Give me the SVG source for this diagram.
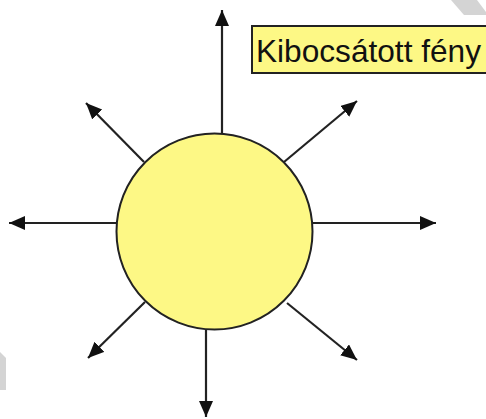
<svg xmlns="http://www.w3.org/2000/svg" width="486" height="419" viewBox="0 0 486 419">
<style>
.ray{stroke:#222;stroke-width:2.2;fill:none;marker-end:url(#ah)}
.sun{fill:#fdf885;stroke:#222;stroke-width:2}
.box{fill:#fdf885;stroke:#222;stroke-width:2}
.lbl{font-family:"Liberation Sans",Arial,sans-serif;font-size:31.5px;fill:#111}
.wm{fill:#d4d4d4}
</style>
<defs>
<marker id="ah" markerUnits="userSpaceOnUse" markerWidth="18" markerHeight="16" refX="16" refY="7" orient="auto">
<path d="M0,0 L16,7 L0,14 z" fill="#111"/>
</marker>
</defs>
<rect width="486" height="419" fill="#fff"/>
<polygon class="wm" points="451,0 477,0 486,12 486,15 464,15"/>
<polygon class="wm" points="0,352 6,358 6,390 0,390"/>
<g id="connectors">
<line class="ray" x1="222" y1="134" x2="222" y2="10"/>
<line class="ray" x1="206" y1="329" x2="206" y2="417"/>
<line class="ray" x1="117" y1="223" x2="9" y2="223"/>
<line class="ray" x1="312" y1="223" x2="436" y2="223"/>
<line class="ray" x1="144" y1="162" x2="86" y2="103"/>
<line class="ray" x1="284" y1="162" x2="357" y2="101"/>
<line class="ray" x1="145" y1="302" x2="88" y2="358"/>
<line class="ray" x1="287" y1="303" x2="357" y2="360"/>
</g>
<g id="sun">
<circle class="sun" cx="214.5" cy="231.5" r="98"/>
</g>
<g id="label">
<rect class="box" x="252" y="26" width="240" height="47"/>
<text class="lbl" x="256" y="62" textLength="225" lengthAdjust="spacingAndGlyphs">Kibocsátott fény</text>
</g>
</svg>
